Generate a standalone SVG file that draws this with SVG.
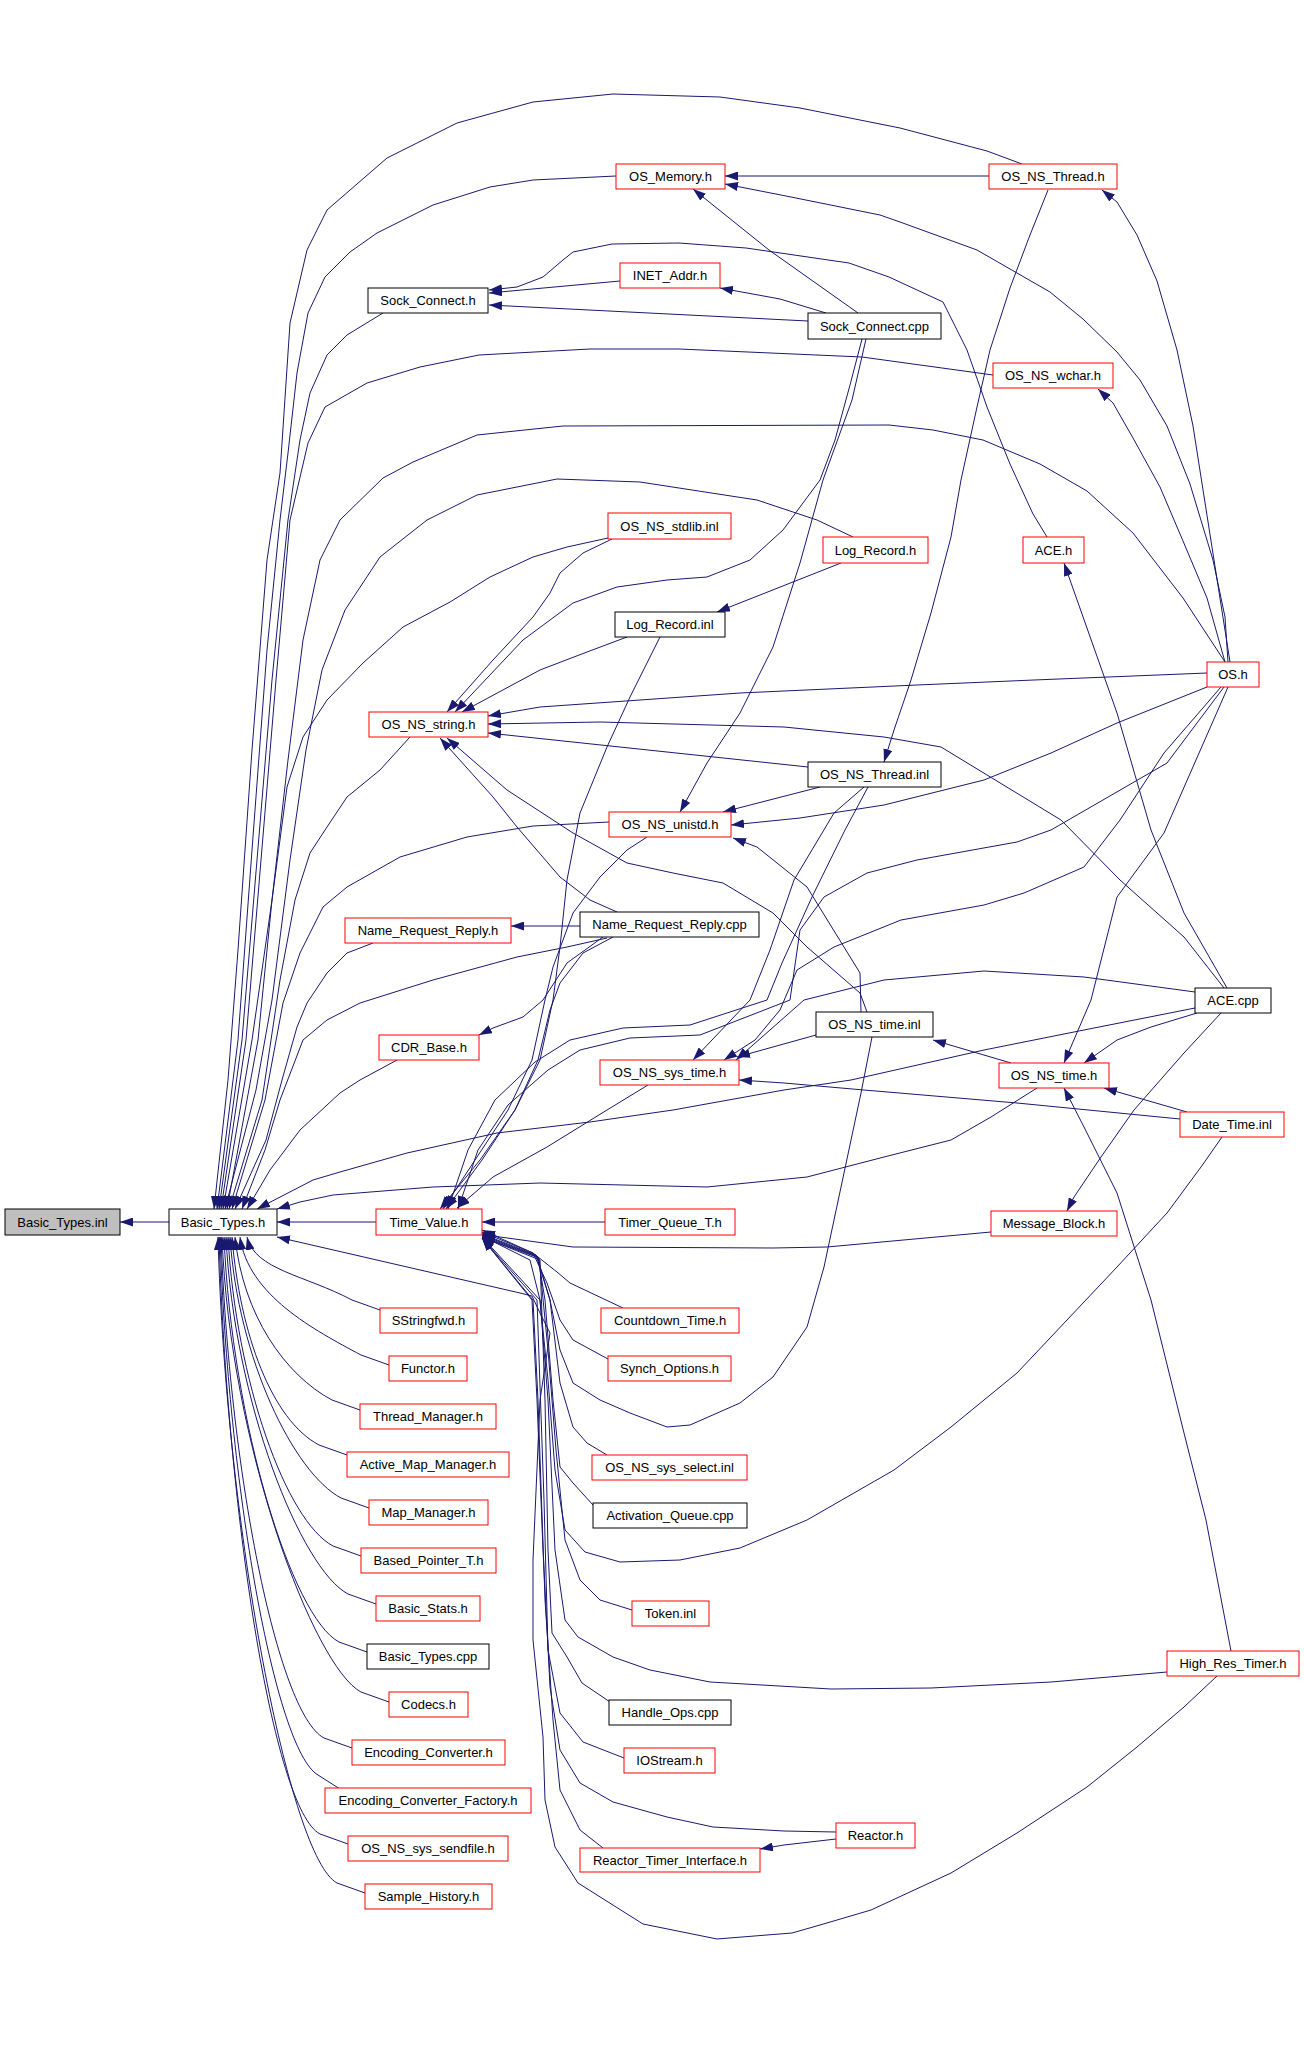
<svg xmlns="http://www.w3.org/2000/svg" width="1304" height="2072" viewBox="0 0 1304 2072">
<defs>
<marker id="a" viewBox="0 0 13 9" refX="13" refY="4.5" markerWidth="13" markerHeight="9" markerUnits="userSpaceOnUse" orient="auto">
<path d="M0,0 L13,4.5 L0,9 Z" fill="#191970"/>
</marker>
<style>
.e{fill:none;stroke:#191970;stroke-width:1;marker-end:url(#a)}
.node rect{fill:#ffffff;stroke-width:1}
.r rect{stroke:#ff0000}
.k rect{stroke:#000000}
.g rect{fill:#bfbfbf;stroke:#000000}
.node text{font-family:"Liberation Sans",Arial,sans-serif;font-size:13px;fill:#000000;text-anchor:middle}
</style>
</defs>
<rect x="0" y="0" width="1304" height="2072" fill="#ffffff"/>
<g id="edges">
<path class="e" d="M169,1222 L120,1222"/>
<path class="e" d="M376,1222 L277,1222"/>
<path class="e" d="M1022,164 L987,151 L900,128 L800,108 L720,97 L613,94 L533,102 L457,123 L387,158 L327,210 L307,250 L290,323 L280,473 L267,560 L252,750 L238,950 L228,1080 L214,1209"/>
<path class="e" d="M616,176 L533,180 L490,187 L433,205 L377,233 L350,252 L325,277 L308,313 L297,373 L288,453 L280,520 L267,650 L252,850 L238,1040 L217,1209"/>
<path class="e" d="M383,313 L347,335 L327,355 L310,393 L300,440 L288,520 L272,680 L257,860 L242,1040 L219,1209"/>
<path class="e" d="M993,375 L862,357 L679,349 L590,349 L479,355 L420,367 L367,383 L325,407 L308,443 L290,520 L276,680 L261,860 L246,1040 L221,1209"/>
<path class="e" d="M1225,662 L1183,598 L1133,533 L1087,491 L1040,464 L983,440 L933,430 L889,425 L563,426 L477,435 L413,462 L383,478 L340,520 L320,560 L303,640 L288,760 L272,900 L252,1040 L223,1209"/>
<path class="e" d="M853,537 L817,520 L757,500 L640,482 L557,479 L477,495 L427,520 L380,557 L345,610 L322,670 L306,750 L290,860 L272,1000 L256,1090 L225,1209"/>
<path class="e" d="M608,538 L567,547 L533,557 L490,577 L450,602 L403,627 L363,663 L327,700 L303,737 L287,787 L272,900 L258,1040 L227,1209"/>
<path class="e" d="M612,539 L583,553 L560,573 L550,593 L533,617 L493,660 L447,712"/>
<path class="e" d="M862,339 L850,385 L835,440 L820,480 L783,530 L750,560 L707,577 L667,580 L617,587 L573,603 L523,640 L455,712"/>
<path class="e" d="M866,339 L852,400 L823,480 L800,563 L773,647 L740,713 L707,763 L680,812"/>
<path class="e" d="M627,637 L587,652 L540,670 L462,712"/>
<path class="e" d="M841,563 L717,612"/>
<path class="e" d="M660,637 L630,697 L607,747 L580,813 L567,880 L560,947 L553,1000 L540,1060 L515,1110 L480,1160 L440,1209"/>
<path class="e" d="M989,176 L725,176"/>
<path class="e" d="M1228,662 L1225,617 L1213,560 L1190,484 L1167,426 L1140,380 L1117,352 L1083,319 L1050,292 L977,250 L900,222 L880,215 L791,197 L725,184"/>
<path class="e" d="M858,313 L769,250 L693,189"/>
<path class="e" d="M826,313 L780,299 L720,288"/>
<path class="e" d="M620,281 L489,293"/>
<path class="e" d="M808,321 L489,305"/>
<path class="e" d="M1047,537 L1033,514 L1010,464 L987,407 L967,350 L943,302 L889,277 L849,263 L746,248 L679,243 L612,244 L573,252 L563,260 L543,277 L517,287 L489,290"/>
<path class="e" d="M1048,190 L1030,235 L1010,288 L990,350 L977,407 L961,480 L951,537 L931,613 L911,680 L894,730 L884,762"/>
<path class="e" d="M1230,662 L1193,426 L1177,350 L1157,281 L1137,235 L1117,202 L1102,190"/>
<path class="e" d="M1225,662 L1207,598 L1183,541 L1160,487 L1133,438 L1113,403 L1098,389"/>
<path class="e" d="M1207,673 L1034,680 L917,685 L784,691 L740,693 L540,707 L488,716"/>
<path class="e" d="M1207,687 L1117,723 L1051,753 L984,780 L884,805 L800,818 L731,825"/>
<path class="e" d="M1221,687 L1164,753 L1120,820 L1084,867 L1024,893 L984,905 L901,920 L834,947 L797,970 L780,1010 L755,1040 L724,1060"/>
<path class="e" d="M1224,687 L1167,763 L1051,830 L1017,842 L917,860 L867,873 L824,897 L800,930 L790,1000 L700,1035 L630,1038 L580,1050 L548,1070 L508,1105 L478,1150 L458,1209"/>
<path class="e" d="M1228,687 L1164,833 L1117,897 L1091,1000 L1064,1063"/>
<path class="e" d="M1227,988 L1184,913 L1151,830 L1117,713 L1064,563"/>
<path class="e" d="M1224,988 L1184,937 L1120,880 L1061,820 L941,747 L884,737 L784,727 L600,722 L488,724"/>
<path class="e" d="M1221,1013 L1184,1053 L1134,1110 L1101,1157 L1074,1197 L1067,1211"/>
<path class="e" d="M1197,1013 L1151,1027 L1117,1040 L1084,1063"/>
<path class="e" d="M1195,1008 L1084,1030 L984,1050 L851,1080 L784,1090 L673,1110 L590,1122 L497,1133 L407,1153 L340,1172 L313,1180 L257,1209"/>
<path class="e" d="M1195,992 L1084,977 L984,971 L884,980 L804,1000 L770,1030 L736,1060"/>
<path class="e" d="M1037,1088 L991,1117 L951,1140 L884,1157 L807,1177 L707,1187 L540,1183 L433,1187 L333,1195 L300,1202 L277,1209"/>
<path class="e" d="M1187,1112 L1104,1088"/>
<path class="e" d="M1180,1119 L1017,1103 L864,1090 L784,1083 L739,1080"/>
<path class="e" d="M1222,1137 L1201,1167 L1167,1213 L1117,1267 L1067,1320 L1017,1373 L951,1427 L894,1470 L807,1520 L740,1548 L680,1560 L620,1562 L585,1552 L565,1530 L555,1470 L548,1380 L540,1300 L530,1260 L482,1236"/>
<path class="e" d="M867,1012 L860,993 L807,947 L773,913 L723,883 L673,873 L627,863 L573,833 L507,790 L447,738"/>
<path class="e" d="M617,912 L590,900 L560,877 L517,827 L493,797 L440,738"/>
<path class="e" d="M861,1012 L860,973 L807,887 L757,847 L733,838"/>
<path class="e" d="M816,1035 L737,1057"/>
<path class="e" d="M1011,1063 L933,1040"/>
<path class="e" d="M808,767 L488,733"/>
<path class="e" d="M820,787 L723,812"/>
<path class="e" d="M864,787 L834,813 L794,880 L770,950 L750,1000 L693,1060"/>
<path class="e" d="M868,787 L845,830 L812,897 L782,963 L767,1000 L690,1025 L623,1028 L570,1040 L535,1062 L495,1100 L468,1150 L448,1209"/>
<path class="e" d="M648,1085 L607,1110 L547,1147 L493,1177 L457,1208"/>
<path class="e" d="M647,837 L627,850 L600,877 L573,913 L553,967 L545,1000 L532,1060 L508,1110 L475,1160 L443,1209"/>
<path class="e" d="M609,822 L533,826 L467,837 L400,857 L347,887 L323,907 L300,953 L283,1003 L265,1100 L232,1209"/>
<path class="e" d="M410,737 L380,770 L347,797 L327,827 L310,853 L295,900 L280,980 L262,1100 L229,1209"/>
<path class="e" d="M373,943 L347,953 L327,973 L307,1003 L297,1027 L282,1080 L266,1140 L235,1209"/>
<path class="e" d="M607,938 L567,947 L517,957 L433,980 L360,1003 L327,1020 L303,1040 L280,1100 L265,1150 L242,1209"/>
<path class="e" d="M580,926 L511,926"/>
<path class="e" d="M613,937 L583,953 L560,983 L550,1010 L538,1060 L515,1110 L482,1160 L446,1209"/>
<path class="e" d="M603,937 L567,963 L543,1000 L523,1017 L493,1028 L479,1035"/>
<path class="e" d="M397,1060 L360,1080 L340,1093 L300,1130 L270,1170 L247,1209"/>
<path class="e" d="M991,1232 L827,1247 L773,1248 L573,1247 L500,1237 L482,1233"/>
<path class="e" d="M605,1222 L482,1222"/>
<path class="e" d="M623,1308 L570,1283 L557,1272 L533,1253 L482,1230"/>
<path class="e" d="M608,1359 L573,1340 L560,1320 L547,1283 L533,1253 L482,1232"/>
<path class="e" d="M872,1037 L861,1093 L844,1173 L824,1267 L807,1327 L773,1377 L740,1403 L690,1425 L667,1427 L630,1413 L600,1400 L573,1383 L560,1350 L550,1300 L536,1255 L482,1234"/>
<path class="e" d="M607,1455 L587,1443 L573,1427 L560,1383 L550,1300 L537,1256 L482,1235"/>
<path class="e" d="M593,1505 L573,1483 L560,1467 L553,1400 L545,1300 L538,1257 L482,1236"/>
<path class="e" d="M632,1610 L600,1600 L580,1580 L565,1540 L556,1450 L548,1350 L539,1258 L482,1237"/>
<path class="e" d="M610,1702 L582,1683 L567,1657 L552,1633 L548,1550 L545,1400 L540,1260 L482,1237"/>
<path class="e" d="M624,1758 L583,1742 L560,1713 L548,1650 L544,1500 L537,1300 L482,1238"/>
<path class="e" d="M603,1848 L580,1830 L560,1790 L553,1720 L545,1600 L538,1400 L533,1300 L482,1238"/>
<path class="e" d="M836,1839 L784,1845 L760,1849"/>
<path class="e" d="M836,1832 L784,1831 L713,1827 L667,1817 L613,1802 L580,1783 L560,1750 L550,1687 L543,1550 L537,1400 L532,1300 L482,1238"/>
<path class="e" d="M1231,1651 L1206,1520 L1184,1433 L1151,1300 L1117,1193 L1084,1127 L1064,1088"/>
<path class="e" d="M1167,1672 L1051,1682 L931,1688 L831,1689 L710,1682 L650,1670 L613,1657 L578,1637 L565,1620 L555,1550 L548,1400 L540,1300 L482,1237"/>
<path class="e" d="M1217,1676 L1184,1707 L1137,1747 L1087,1787 L1017,1833 L951,1873 L871,1910 L820,1925 L792,1933 L717,1939 L643,1924 L578,1883 L555,1847 L545,1800 L543,1737 L533,1640 L533,1560 L540,1400 L550,1333 L540,1313 L532,1296 L520,1293 L277,1237"/>
<path class="e" d="M380,1310 L352,1300 C305,1275 255,1270 247,1237"/>
<path class="e" d="M389,1365 L361,1355 C314,1330 248,1295 240,1237"/>
<path class="e" d="M360,1410 L332,1400 C285,1375 243,1315 235,1237"/>
<path class="e" d="M347,1455 L319,1445 C272,1420 240,1335 232,1237"/>
<path class="e" d="M369,1508 L341,1498 C294,1473 238,1359 230,1237"/>
<path class="e" d="M361,1556 L333,1546 C286,1521 236,1381 228,1237"/>
<path class="e" d="M376,1604 L348,1594 C301,1569 234,1402 226,1237"/>
<path class="e" d="M367,1652 L339,1642 C292,1617 232,1424 224,1237"/>
<path class="e" d="M389,1702 L361,1692 C314,1667 230,1446 222,1237"/>
<path class="e" d="M352,1748 L324,1738 C277,1713 229,1467 221,1237"/>
<path class="e" d="M340,1789 L318,1775 C275,1750 228,1485 220,1237"/>
<path class="e" d="M348,1844 L320,1834 C273,1809 227,1510 219,1237"/>
<path class="e" d="M365,1893 L337,1883 C290,1858 226,1532 218,1237"/>
</g>
<g id="bt_inl" class="node g"><rect x="5" y="1209" width="115" height="26"/><text x="62.5" y="1226.5">Basic_Types.inl</text></g>
<g id="bt_h" class="node k"><rect x="169" y="1209" width="108" height="26"/><text x="223" y="1226.5">Basic_Types.h</text></g>
<g id="tv" class="node r"><rect x="376" y="1209" width="106" height="26"/><text x="429" y="1226.5">Time_Value.h</text></g>
<g id="sc_h" class="node k"><rect x="368" y="288" width="120" height="25"/><text x="428" y="305">Sock_Connect.h</text></g>
<g id="nss" class="node r"><rect x="369" y="712" width="119" height="25"/><text x="428.5" y="729">OS_NS_string.h</text></g>
<g id="nrr_h" class="node r"><rect x="345" y="918" width="166" height="25"/><text x="428" y="935">Name_Request_Reply.h</text></g>
<g id="cdr" class="node r"><rect x="379" y="1035" width="100" height="25"/><text x="429" y="1052">CDR_Base.h</text></g>
<g id="ssf" class="node r"><rect x="380" y="1308" width="97" height="25"/><text x="428.5" y="1325">SStringfwd.h</text></g>
<g id="fun" class="node r"><rect x="389" y="1356" width="78" height="25"/><text x="428" y="1373">Functor.h</text></g>
<g id="thm" class="node r"><rect x="360" y="1404" width="136" height="25"/><text x="428" y="1421">Thread_Manager.h</text></g>
<g id="amm" class="node r"><rect x="347" y="1452" width="162" height="25"/><text x="428" y="1469">Active_Map_Manager.h</text></g>
<g id="mm" class="node r"><rect x="369" y="1500" width="119" height="25"/><text x="428.5" y="1517">Map_Manager.h</text></g>
<g id="bpt" class="node r"><rect x="361" y="1548" width="135" height="25"/><text x="428.5" y="1565">Based_Pointer_T.h</text></g>
<g id="bs" class="node r"><rect x="376" y="1596" width="104" height="25"/><text x="428" y="1613">Basic_Stats.h</text></g>
<g id="btc" class="node k"><rect x="367" y="1644" width="122" height="25"/><text x="428" y="1661">Basic_Types.cpp</text></g>
<g id="cod" class="node r"><rect x="389" y="1692" width="79" height="25"/><text x="428.5" y="1709">Codecs.h</text></g>
<g id="ec" class="node r"><rect x="352" y="1740" width="153" height="25"/><text x="428.5" y="1757">Encoding_Converter.h</text></g>
<g id="ecf" class="node r"><rect x="325" y="1788" width="206" height="25"/><text x="428" y="1805">Encoding_Converter_Factory.h</text></g>
<g id="sf" class="node r"><rect x="348" y="1836" width="160" height="25"/><text x="428" y="1853">OS_NS_sys_sendfile.h</text></g>
<g id="sh" class="node r"><rect x="365" y="1884" width="127" height="25"/><text x="428.5" y="1901">Sample_History.h</text></g>
<g id="mem" class="node r"><rect x="616" y="164" width="109" height="25"/><text x="670.5" y="181">OS_Memory.h</text></g>
<g id="inet" class="node r"><rect x="620" y="263" width="100" height="25"/><text x="670" y="280">INET_Addr.h</text></g>
<g id="stdl" class="node r"><rect x="608" y="513" width="123" height="26"/><text x="669.5" y="530.5">OS_NS_stdlib.inl</text></g>
<g id="lri" class="node k"><rect x="615" y="612" width="110" height="25"/><text x="670" y="629">Log_Record.inl</text></g>
<g id="uni" class="node r"><rect x="609" y="812" width="122" height="25"/><text x="670" y="829">OS_NS_unistd.h</text></g>
<g id="nrr_c" class="node k"><rect x="580" y="912" width="179" height="25"/><text x="669.5" y="929">Name_Request_Reply.cpp</text></g>
<g id="syt" class="node r"><rect x="600" y="1060" width="139" height="25"/><text x="669.5" y="1077">OS_NS_sys_time.h</text></g>
<g id="tqt" class="node r"><rect x="605" y="1209" width="130" height="26"/><text x="670" y="1226.5">Timer_Queue_T.h</text></g>
<g id="cdt" class="node r"><rect x="601" y="1308" width="138" height="25"/><text x="670" y="1325">Countdown_Time.h</text></g>
<g id="syo" class="node r"><rect x="608" y="1356" width="123" height="25"/><text x="669.5" y="1373">Synch_Options.h</text></g>
<g id="sel" class="node r"><rect x="592" y="1455" width="155" height="25"/><text x="669.5" y="1472">OS_NS_sys_select.inl</text></g>
<g id="aq" class="node k"><rect x="593" y="1503" width="154" height="25"/><text x="670" y="1520">Activation_Queue.cpp</text></g>
<g id="tok" class="node r"><rect x="632" y="1601" width="77" height="25"/><text x="670.5" y="1618">Token.inl</text></g>
<g id="ho" class="node k"><rect x="609" y="1700" width="122" height="25"/><text x="670" y="1717">Handle_Ops.cpp</text></g>
<g id="ios" class="node r"><rect x="624" y="1748" width="91" height="25"/><text x="669.5" y="1765">IOStream.h</text></g>
<g id="rti" class="node r"><rect x="580" y="1848" width="180" height="24"/><text x="670" y="1864.5">Reactor_Timer_Interface.h</text></g>
<g id="scc" class="node k"><rect x="808" y="313" width="133" height="26"/><text x="874.5" y="330.5">Sock_Connect.cpp</text></g>
<g id="lrh" class="node r"><rect x="823" y="537" width="105" height="26"/><text x="875.5" y="554.5">Log_Record.h</text></g>
<g id="nti" class="node k"><rect x="808" y="762" width="133" height="25"/><text x="874.5" y="779">OS_NS_Thread.inl</text></g>
<g id="nsti" class="node k"><rect x="816" y="1012" width="117" height="25"/><text x="874.5" y="1029">OS_NS_time.inl</text></g>
<g id="rea" class="node r"><rect x="836" y="1823" width="79" height="25"/><text x="875.5" y="1840">Reactor.h</text></g>
<g id="nth" class="node r"><rect x="989" y="164" width="128" height="25"/><text x="1053" y="181">OS_NS_Thread.h</text></g>
<g id="wch" class="node r"><rect x="993" y="363" width="120" height="25"/><text x="1053" y="380">OS_NS_wchar.h</text></g>
<g id="ace_h" class="node r"><rect x="1023" y="537" width="61" height="26"/><text x="1053.5" y="554.5">ACE.h</text></g>
<g id="nst" class="node r"><rect x="999" y="1063" width="110" height="25"/><text x="1054" y="1080">OS_NS_time.h</text></g>
<g id="mb" class="node r"><rect x="991" y="1211" width="126" height="25"/><text x="1054" y="1228">Message_Block.h</text></g>
<g id="os" class="node r"><rect x="1207" y="662" width="52" height="25"/><text x="1233" y="679">OS.h</text></g>
<g id="ace_c" class="node k"><rect x="1195" y="988" width="76" height="25"/><text x="1233" y="1005">ACE.cpp</text></g>
<g id="dti" class="node r"><rect x="1180" y="1112" width="104" height="25"/><text x="1232" y="1129">Date_Time.inl</text></g>
<g id="hrt" class="node r"><rect x="1167" y="1651" width="132" height="25"/><text x="1233" y="1668">High_Res_Timer.h</text></g>
</svg>
